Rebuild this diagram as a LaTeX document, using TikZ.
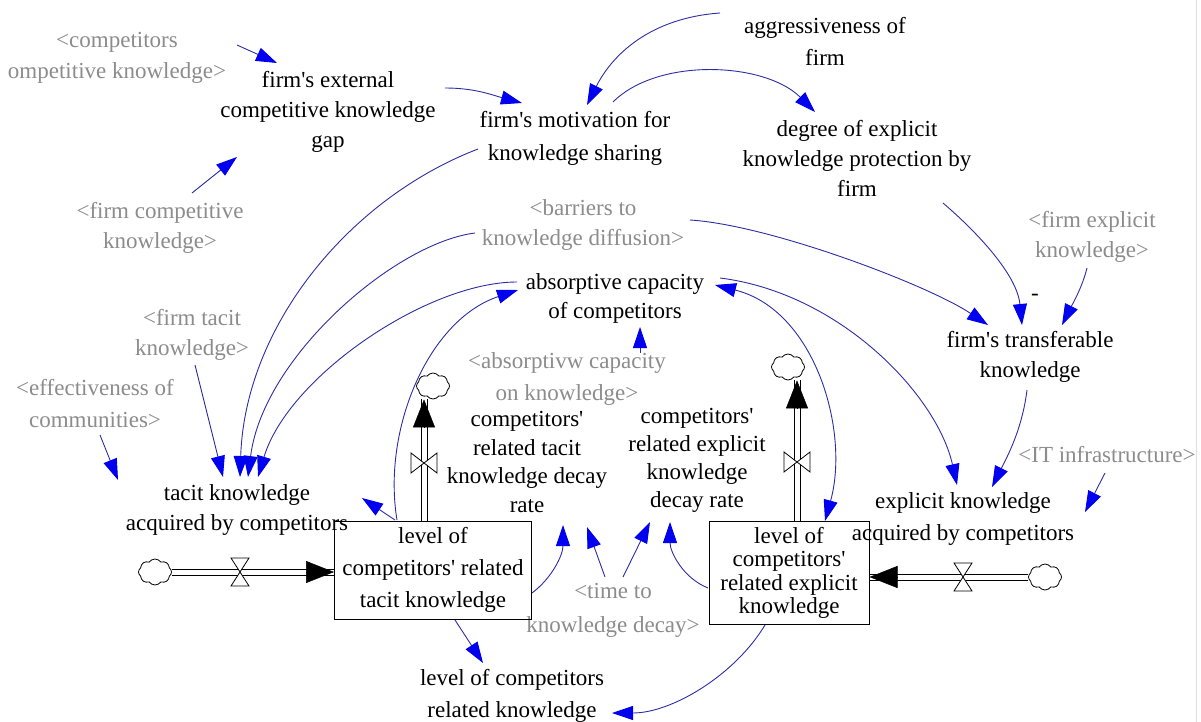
\documentclass[tikz,border=0pt]{standalone}
\usepackage{fontspec}
\setmainfont{Liberation Serif}[Ligatures=TeXOff]
\usetikzlibrary{arrows.meta,shapes.symbols,calc}

\definecolor{linkblue}{RGB}{45,45,165}
\definecolor{headblue}{RGB}{0,0,240}
\definecolor{shadowtext}{RGB}{140,140,140}

\tikzset{
  var/.style={align=center, inner sep=0pt, font=\fontsize{23}{31}\selectfont},
  lsp/.style={font=\fontsize{23}{#1}\selectfont},
  shadow/.style={var, text=shadowtext},
  stockbox/.style={draw=black, line width=1pt, inner sep=0pt, align=center},
  link/.style={draw=linkblue, line width=0.9pt, -{Triangle[length=21pt,width=14pt,color=headblue]}},
  linkboth/.style={draw=linkblue, line width=0.9pt, {Triangle[length=21pt,width=14pt,color=headblue]}-{Triangle[length=21pt,width=14pt,color=headblue]}},
  pipe/.style={draw=black, double=white, double distance=5pt, line width=1pt},
  pipetip/.style={black, line width=0.5pt, -{Triangle[length=28pt,width=22pt]}},
  cloudsym/.style={cloud, cloud puffs=8, cloud puff arc=110, aspect=1.25, draw=black, line width=0.8pt, fill=white, minimum width=33pt, minimum height=26pt, inner sep=0pt},
  hvalve/.pic={\draw[black, line width=0.8pt, fill=white] (-9,-14) -- (9,-14) -- (0,0) -- cycle (-9,14) -- (9,14) -- (0,0) -- cycle;},
  vvalve/.pic={\draw[black, line width=0.8pt, fill=white] (-13,-10) -- (-13,10) -- (0,0) -- cycle (13,-10) -- (13,10) -- (0,0) -- cycle;}
}

\begin{document}
\begin{tikzpicture}[x=1pt,y=-1pt]
\fill[white] (0,0) rectangle (1201,722);
\useasboundingbox (0,0) rectangle (1201,722);
\draw[gray!25, line width=1pt] (1196,0) -- (1196,722);

% ---- variables ----
\node[shadow] (ccomp) at (117,58) {<competitors\\ompetitive knowledge>};
\node[var, lsp=30] (gap) at (328,112) {firm's external\\competitive knowledge\\gap};
\node[var, lsp=33] (motiv) at (575,138) {firm's motivation for\\knowledge sharing};
\node[var, lsp=32] (aggr) at (825,41) {aggressiveness of\\firm};
\node[var, lsp=30] (protect) at (857,158) {degree of explicit\\knowledge protection by\\firm};
\node[shadow, lsp=30] (barr) at (583,225) {<barriers to\\knowledge diffusion>};
\node[shadow, lsp=30] (fcomp) at (160,228) {<firm competitive\\knowledge>};
\node[var, lsp=29] (absorb) at (615,298) {absorptive capacity\\of competitors};
\node[shadow, lsp=30] (fexpl) at (1092,237) {<firm explicit\\knowledge>};
\node[var] (minus) at (1035,297) {-};
\node[var, lsp=30] (transf) at (1030,357) {firm's transferable\\knowledge};
\node[shadow, lsp=30] (ftacit) at (192,335) {<firm tacit\\knowledge>};
\node[shadow, lsp=32] (effect) at (95,404) {<effectiveness of\\communities>};
\node[var, lsp=30] (tacitacq) at (237,510) {tacit knowledge\\acquired by competitors};
\node[shadow, lsp=32] (abskn) at (567,379) {<absorptivw capacity\\on knowledge>};
\node[var, lsp=28.5] (tdecay) at (527,462) {competitors'\\related tacit\\knowledge decay\\rate};
\node[var, lsp=28] (edecay) at (697,460) {competitors'\\related explicit\\knowledge\\decay rate};
\node[var, lsp=32] (explacq) at (963,519) {explicit knowledge\\acquired by competitors};
\node[shadow] (itinf) at (1107,455) {<IT infrastructure>};
\node[shadow, lsp=34] (time) at (613,610) {<time to\\knowledge decay>};
\node[var, lsp=32] (level) at (512,696) {level of competitors\\related knowledge};

% ---- stocks ----
\node[stockbox, var, lsp=32, minimum width=197pt, minimum height=98pt] (s1) at (433,570) {level of\\competitors' related\\tacit knowledge};
\node[stockbox, var, lsp=23.5, minimum width=160pt, minimum height=103pt] (s2) at (789,573) {level of\\competitors'\\related explicit\\knowledge};

% ---- clouds and flows ----
\node[cloudsym] (c1) at (155,572) {};
\node[cloudsym] (c2) at (433,386) {};
\node[cloudsym] (c3) at (788,367) {};
\node[cloudsym] (c4) at (1045,577) {};
\coordinate (v1) at (240,572);
\coordinate (v2) at (424,463);
\coordinate (v3) at (797,462);
\coordinate (v4) at (963,577);

\coordinate (p1) at (c1 -| s1.west);
\draw[pipe] (c1.east) -- (p1);
\pic at (v1) {hvalve};
\draw[pipetip] ($(p1)+(-28,0)$) -- (p1);

\coordinate (p2a) at (v2 |- s1.north);
\coordinate (p2b) at (v2 |- c2.south);
\draw[pipe] (p2a) -- (p2b);
\pic at (v2) {vvalve};
\draw[pipetip] ($(p2b)+(0,28)$) -- (p2b);

\coordinate (p3a) at (v3 |- s2.north);
\coordinate (p3b) at (v3 |- c3.south);
\draw[pipe] (p3a) -- (p3b);
\pic at (v3) {vvalve};
\draw[pipetip] ($(p3b)+(0,28)$) -- (p3b);

\coordinate (p4) at (c4 -| s2.east);
\draw[pipe] (c4.west) -- (p4);
\pic at (v4) {hvalve};
\draw[pipetip] ($(p4)+(28,0)$) -- (p4);

% ---- free arrow ends ----
\coordinate (effend) at (118,480);
\coordinate (itend) at (1085,512);

% ---- causal links ----
\draw[link] ([shift={(120,-13)}]ccomp.center) -- ([shift={(-51,-49)}]gap.center);
\draw[link] ([shift={(32,-35)}]fcomp.center) -- ([shift={(-91,45)}]gap.center);
\draw[link] ([shift={(117,-24)}]gap.center) .. controls +(30,0) and +(-30,-8) .. ([shift={(-53,-35)}]motiv.center);
\draw[link] ([shift={(-105,-28)}]aggr.center) .. controls +(-70,5) and +(25,-50) .. ([shift={(12,-33)}]motiv.center);
\draw[link] ([shift={(38,-36)}]motiv.center) .. controls +(45,-45) and +(-50,-50) .. ([shift={(-42,-46)}]protect.center);
\draw[link] ([shift={(-97,11)}]motiv.center) .. controls +(-130,50) and +(5,-150) .. ([shift={(3,-33)}]tacitacq.center);
\draw[link] ([shift={(-108,8)}]barr.center) .. controls +(-80,10) and +(15,-120) .. ([shift={(11,-33)}]tacitacq.center);
\draw[link] ([shift={(-98,-16)}]absorb.center) .. controls +(-90,0) and +(30,-100) .. ([shift={(21,-33)}]tacitacq.center);
\draw[link] ([shift={(3,30)}]ftacit.center) -- ([shift={(-14,-33)}]tacitacq.center);
\draw[link] ([shift={(5,31)}]effect.center) -- (effend);
\draw[link] ([shift={(-38,-50)}]s1.center) -- ([shift={(125,-12)}]tacitacq.center);
\draw[link] ([shift={(-36,-50)}]s1.center) .. controls +(-15,-90) and +(-90,30) .. ([shift={(-97,-8)}]absorb.center);
\draw[link] ([shift={(107,-5)}]barr.center) .. controls +(80,5) and +(-60,-40) .. ([shift={(-42,-32)}]transf.center);
\draw[link] ([shift={(86,45)}]protect.center) .. controls +(35,30) and +(-5,-50) .. ([shift={(-8,-32)}]transf.center);
\draw[link] ([shift={(-5,31)}]fexpl.center) .. controls +(-5,20) and +(10,-20) .. ([shift={(32,-32)}]transf.center);
\draw[link] ([shift={(-3,33)}]transf.center) .. controls +(-5,40) and +(15,-30) .. ([shift={(29,-32)}]explacq.center);
\draw[link] ([shift={(105,-20)}]absorb.center) .. controls +(120,15) and +(-20,-90) .. ([shift={(-6,-34)}]explacq.center);
\draw[linkboth] ([shift={(100,-13)}]absorb.center) .. controls +(100,25) and +(25,-90) .. ([shift={(36,-52)}]s2.center);
\draw[link] ([shift={(99,23)}]s1.center) .. controls +(20,-15) and +(0,30) .. ([shift={(36,63)}]tdecay.center);
\draw[link] ([shift={(-8,-33)}]time.center) -- ([shift={(60,65)}]tdecay.center);
\draw[link] ([shift={(10,-33)}]time.center) -- ([shift={(-47,62)}]edecay.center);
\draw[link] ([shift={(-81,15)}]s2.center) .. controls +(-25,-10) and +(0,30) .. ([shift={(-27,62)}]edecay.center);
\draw[link] ([shift={(73,-26)}]abskn.center) -- ([shift={(25,29)}]absorb.center);
\draw[link] ([shift={(22,50)}]s1.center) -- ([shift={(-29,-33)}]level.center);
\draw[link] ([shift={(-24,52)}]s2.center) .. controls +(-30,50) and +(60,0) .. ([shift={(100,17)}]level.center);
\draw[link] ([shift={(-2,18)}]itinf.center) -- (itend);
\end{tikzpicture}
\end{document}
